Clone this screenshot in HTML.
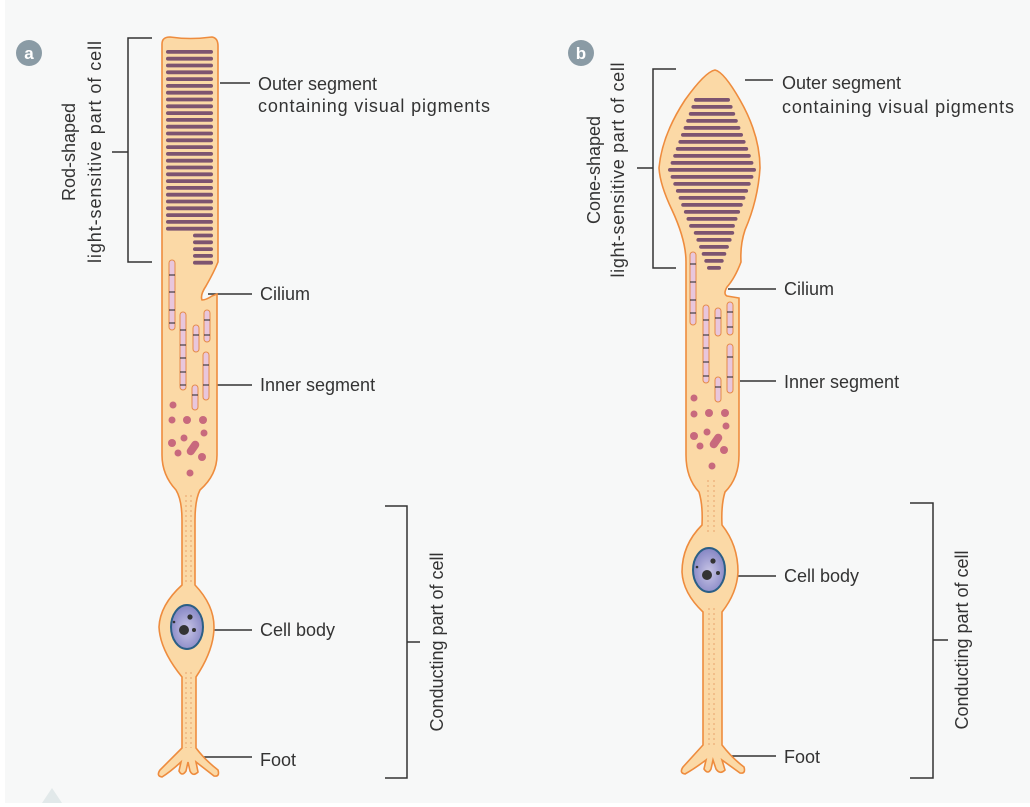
<!DOCTYPE html>
<html><head><meta charset="utf-8"><style>
html,body{margin:0;padding:0;background:#fff;}
svg{display:block;}
text{font-family:"Liberation Sans",sans-serif;fill:#333;font-size:18px;}
</style></head><body>
<svg width="1030" height="807" viewBox="0 0 1030 807" xmlns="http://www.w3.org/2000/svg">
<defs>
<radialGradient id="nuc" cx="0.5" cy="0.55" r="0.6">
<stop offset="0" stop-color="#c9c6e6"/><stop offset="0.6" stop-color="#9c9bd0"/><stop offset="1" stop-color="#7f80c0"/>
</radialGradient>
</defs>
<rect x="5" y="0" width="1025" height="803" fill="#f7f8f8"/>
<g stroke="#333" stroke-width="1.5" fill="none">
<path d="M152 38 H128 V262 H152 M128 152 H112"/>
<path d="M385 506 H407 V778 H385 M407 642 H420"/>
<path d="M220 83 H250 M208 294 H252 M208 385 H252 M188 630 H252 M184 757 H252"/>
<path d="M676 69 H653 V268 H676 M653 168 H637"/>
<path d="M910 503 H933 V778 H910 M933 640 H948"/>
<path d="M745 80 H773 M728 289 H776 M740 381 H776 M710 576 H776 M724 756 H776"/>
</g>

<!-- ROD CELL -->
<path d="M162 44 Q162 37 170 37 Q190 40 212 37 Q218 38 218 46 L218 262 Q214 272 206 286 Q200 295 202 300 Q206 300 212 296 L217 294 L217 455 Q217 475 200 490 Q195 500 195 520 L195 585 Q214 605 214 627 Q214 650 196 677 L196 748 Q205 760 218 770 Q220 777 214 776 L196 762 L198 772 Q193 777 190 771 L188 762 L186 771 Q182 777 179 771 L181 762 Q170 772 162 777 Q156 776 160 770 L182 748 L182 677 Q160 650 159 627 Q160 605 182 585 L182 520 Q182 500 176 490 Q162 475 162 455 Z" fill="#fbd9a6" stroke="#ee8c3e" stroke-width="1.6"/>
<g fill="#7d5470">
<rect x="166" y="50" width="47" height="3.8" rx="1.9"/><rect x="166" y="56.8" width="47" height="3.8" rx="1.9"/><rect x="166" y="63.6" width="47" height="3.8" rx="1.9"/><rect x="166" y="70.4" width="47" height="3.8" rx="1.9"/><rect x="166" y="77.2" width="47" height="3.8" rx="1.9"/><rect x="166" y="84" width="47" height="3.8" rx="1.9"/><rect x="166" y="90.8" width="47" height="3.8" rx="1.9"/><rect x="166" y="97.6" width="47" height="3.8" rx="1.9"/><rect x="166" y="104.4" width="47" height="3.8" rx="1.9"/><rect x="166" y="111.2" width="47" height="3.8" rx="1.9"/><rect x="166" y="118" width="47" height="3.8" rx="1.9"/><rect x="166" y="124.8" width="47" height="3.8" rx="1.9"/><rect x="166" y="131.6" width="47" height="3.8" rx="1.9"/><rect x="166" y="138.4" width="47" height="3.8" rx="1.9"/><rect x="166" y="145.2" width="47" height="3.8" rx="1.9"/><rect x="166" y="152" width="47" height="3.8" rx="1.9"/><rect x="166" y="158.8" width="47" height="3.8" rx="1.9"/><rect x="166" y="165.6" width="47" height="3.8" rx="1.9"/><rect x="166" y="172.4" width="47" height="3.8" rx="1.9"/><rect x="166" y="179.2" width="47" height="3.8" rx="1.9"/><rect x="166" y="186" width="47" height="3.8" rx="1.9"/><rect x="166" y="192.8" width="47" height="3.8" rx="1.9"/><rect x="166" y="199.6" width="47" height="3.8" rx="1.9"/><rect x="166" y="206.4" width="47" height="3.8" rx="1.9"/><rect x="166" y="213.2" width="47" height="3.8" rx="1.9"/><rect x="166" y="220" width="47" height="3.8" rx="1.9"/><rect x="166" y="226.8" width="47" height="3.8" rx="1.9"/>
<rect x="193" y="233.6" width="20" height="3.8" rx="1.9"/><rect x="193" y="240.4" width="20" height="3.8" rx="1.9"/><rect x="193" y="247.2" width="20" height="3.8" rx="1.9"/><rect x="193" y="254" width="20" height="3.8" rx="1.9"/><rect x="193" y="260.8" width="20" height="3.8" rx="1.9"/>
</g>
<g fill="#e8c6dc" stroke="#e58b4a" stroke-width="1">
<rect x="169" y="260" width="6" height="70" rx="3"/><rect x="180" y="312" width="6" height="78" rx="3"/><rect x="193" y="325" width="6" height="27" rx="3"/><rect x="204" y="310" width="6" height="32" rx="3"/><rect x="203" y="352" width="6" height="48" rx="3"/><rect x="192" y="385" width="6" height="25" rx="3"/>
</g>
<g stroke="#222" stroke-width="1">
<path d="M169 275 H175 M169 292 H175 M169 310 H175 M169 323 H175 M180 330 H186 M180 345 H186 M180 358 H186 M180 372 H186 M180 385 H186 M193 335 H199 M204 320 H210 M204 335 H210 M203 365 H209 M203 385 H209 M192 395 H198"/>
</g>
<g fill="#c8697d">
<circle cx="173" cy="405" r="3.5"/><circle cx="172" cy="420" r="3.5"/><circle cx="187" cy="420" r="4"/><circle cx="203" cy="420" r="4"/><circle cx="204" cy="433" r="3.5"/><circle cx="172" cy="443" r="4"/><circle cx="184" cy="438" r="3.5"/><circle cx="202" cy="457" r="4"/><circle cx="178" cy="453" r="3.5"/><circle cx="190" cy="473" r="3.5"/>
<rect x="189" y="440" width="8" height="16" rx="4" transform="rotate(35 193 448)"/>
</g>
<g stroke="#e9a26c" stroke-width="1" stroke-dasharray="2 3" fill="none">
<path d="M186 495 V585 M191 495 V585 M186 672 V748 M191 672 V748"/>
</g>
<ellipse cx="187" cy="627" rx="16" ry="22" fill="url(#nuc)" stroke="#2b5f86" stroke-width="2"/>
<circle cx="184" cy="630" r="5" fill="#333"/><circle cx="190" cy="617" r="2.6" fill="#333"/><circle cx="194" cy="630" r="2" fill="#333"/><circle cx="174" cy="622" r="1.3" fill="#333"/>

<!-- CONE CELL -->
<path d="M715 70 Q724 72 740 100 Q760 135 760 168 Q758 200 745 230 Q740 245 741 262 Q735 278 727 287 Q723 294 727 296 L739 298 L739 455 Q739 478 725 492 Q721 505 722 525 Q738 545 738 572 Q737 593 722 612 L722 745 Q732 758 744 767 Q746 774 740 773 L722 760 L725 770 Q720 775 716 769 L713 760 L711 769 Q708 775 704 769 L706 760 Q694 769 685 774 Q679 773 683 767 L703 745 L703 612 Q683 593 682 572 Q682 545 702 525 Q703 505 699 492 Q686 478 686 455 L686 262 Q686 240 672 210 Q660 185 659 168 Q662 135 685 100 Q705 72 715 70 Z" fill="#fbd9a6" stroke="#ee8c3e" stroke-width="1.6"/>
<g fill="#7d5470">
<rect x="694" y="98" width="36" height="3.8" rx="1.9"/><rect x="691.4" y="105" width="41.2" height="3.8" rx="1.9"/><rect x="688.8" y="112" width="46.4" height="3.8" rx="1.9"/><rect x="686.2" y="119" width="51.6" height="3.8" rx="1.9"/><rect x="683.6" y="126" width="56.8" height="3.8" rx="1.9"/><rect x="681" y="133" width="62" height="3.8" rx="1.9"/><rect x="678.4" y="140" width="67.2" height="3.8" rx="1.9"/><rect x="675.8" y="147" width="72.4" height="3.8" rx="1.9"/><rect x="673.2" y="154" width="77.6" height="3.8" rx="1.9"/><rect x="670.6" y="161" width="82.8" height="3.8" rx="1.9"/><rect x="668" y="168" width="88" height="3.8" rx="1.9"/><rect x="670.6" y="175" width="82.8" height="3.8" rx="1.9"/><rect x="673.3" y="182" width="77.4" height="3.8" rx="1.9"/><rect x="675.9" y="189" width="72.2" height="3.8" rx="1.9"/><rect x="678.6" y="196" width="66.8" height="3.8" rx="1.9"/><rect x="681.2" y="203" width="61.6" height="3.8" rx="1.9"/><rect x="683.9" y="210" width="56.2" height="3.8" rx="1.9"/><rect x="686.5" y="217" width="51" height="3.8" rx="1.9"/><rect x="689.1" y="224" width="45.8" height="3.8" rx="1.9"/><rect x="693.8" y="231" width="40.4" height="3.8" rx="1.9"/><rect x="696.4" y="238" width="35.2" height="3.8" rx="1.9"/><rect x="699.1" y="245" width="29.8" height="3.8" rx="1.9"/><rect x="701.7" y="252" width="24.6" height="3.8" rx="1.9"/><rect x="704.3" y="259" width="19.4" height="3.8" rx="1.9"/><rect x="707" y="266" width="14" height="3.8" rx="1.9"/>
</g>
<g fill="#e8c6dc" stroke="#e58b4a" stroke-width="1">
<rect x="690" y="252" width="6" height="73" rx="3"/><rect x="703" y="305" width="6" height="78" rx="3"/><rect x="715" y="308" width="6" height="28" rx="3"/><rect x="727" y="302" width="6" height="33" rx="3"/><rect x="727" y="344" width="6" height="49" rx="3"/><rect x="715" y="377" width="6" height="25" rx="3"/>
</g>
<g stroke="#222" stroke-width="1">
<path d="M690 264 H696 M690 282 H696 M690 300 H696 M690 313 H696 M703 320 H709 M703 335 H709 M703 348 H709 M703 362 H709 M703 376 H709 M715 318 H721 M727 312 H733 M727 327 H733 M727 357 H733 M727 377 H733 M715 387 H721"/>
</g>
<g fill="#c8697d">
<circle cx="694" cy="398" r="3.5"/><circle cx="694" cy="414" r="3.5"/><circle cx="709" cy="413" r="4"/><circle cx="725" cy="413" r="4"/><circle cx="726" cy="426" r="3.5"/><circle cx="694" cy="436" r="4"/><circle cx="707" cy="432" r="3.5"/><circle cx="724" cy="450" r="4"/><circle cx="700" cy="446" r="3.5"/><circle cx="712" cy="466" r="3.5"/>
<rect x="712" y="433" width="8" height="16" rx="4" transform="rotate(35 716 441)"/>
</g>
<g stroke="#e9a26c" stroke-width="1" stroke-dasharray="2 3" fill="none">
<path d="M708 480 V535 M714 480 V535 M709 608 V745 M714 608 V745"/>
</g>
<ellipse cx="709" cy="570" rx="16" ry="22" fill="url(#nuc)" stroke="#2b5f86" stroke-width="2"/>
<circle cx="707" cy="575" r="5" fill="#333"/><circle cx="713" cy="561" r="2.6" fill="#333"/><circle cx="718" cy="573" r="2" fill="#333"/><circle cx="697" cy="567" r="1.3" fill="#333"/>

<circle cx="29" cy="53" r="13" fill="#8a9ba5"/>
<text x="29" y="59" text-anchor="middle" style="fill:#fff;font-weight:bold;font-size:17px">a</text>
<circle cx="581" cy="53" r="13" fill="#8a9ba5"/>
<text x="581" y="59" text-anchor="middle" style="fill:#fff;font-weight:bold;font-size:17px">b</text>

<text x="258" y="90">Outer segment</text>
<text x="258" y="112" textLength="232">containing visual pigments</text>
<text x="260" y="300">Cilium</text>
<text x="260" y="391">Inner segment</text>
<text x="260" y="636">Cell body</text>
<text x="260" y="766">Foot</text>
<text transform="translate(75 152) rotate(-90)" text-anchor="middle">Rod-shaped</text>
<text transform="translate(101 152) rotate(-90)" text-anchor="middle" textLength="222">light-sensitive part of cell</text>
<text transform="translate(443 642) rotate(-90)" text-anchor="middle">Conducting part of cell</text>

<text x="782" y="89">Outer segment</text>
<text x="782" y="113" textLength="232">containing visual pigments</text>
<text x="784" y="295">Cilium</text>
<text x="784" y="388">Inner segment</text>
<text x="784" y="582">Cell body</text>
<text x="784" y="763">Foot</text>
<text transform="translate(600 170) rotate(-90)" text-anchor="middle">Cone-shaped</text>
<text transform="translate(624 170) rotate(-90)" text-anchor="middle" textLength="215">light-sensitive part of cell</text>
<text transform="translate(968 640) rotate(-90)" text-anchor="middle">Conducting part of cell</text>

<path d="M42 803 L52 788 L62 803 Z" fill="#e2e9ea"/>
</svg>
</body></html>
